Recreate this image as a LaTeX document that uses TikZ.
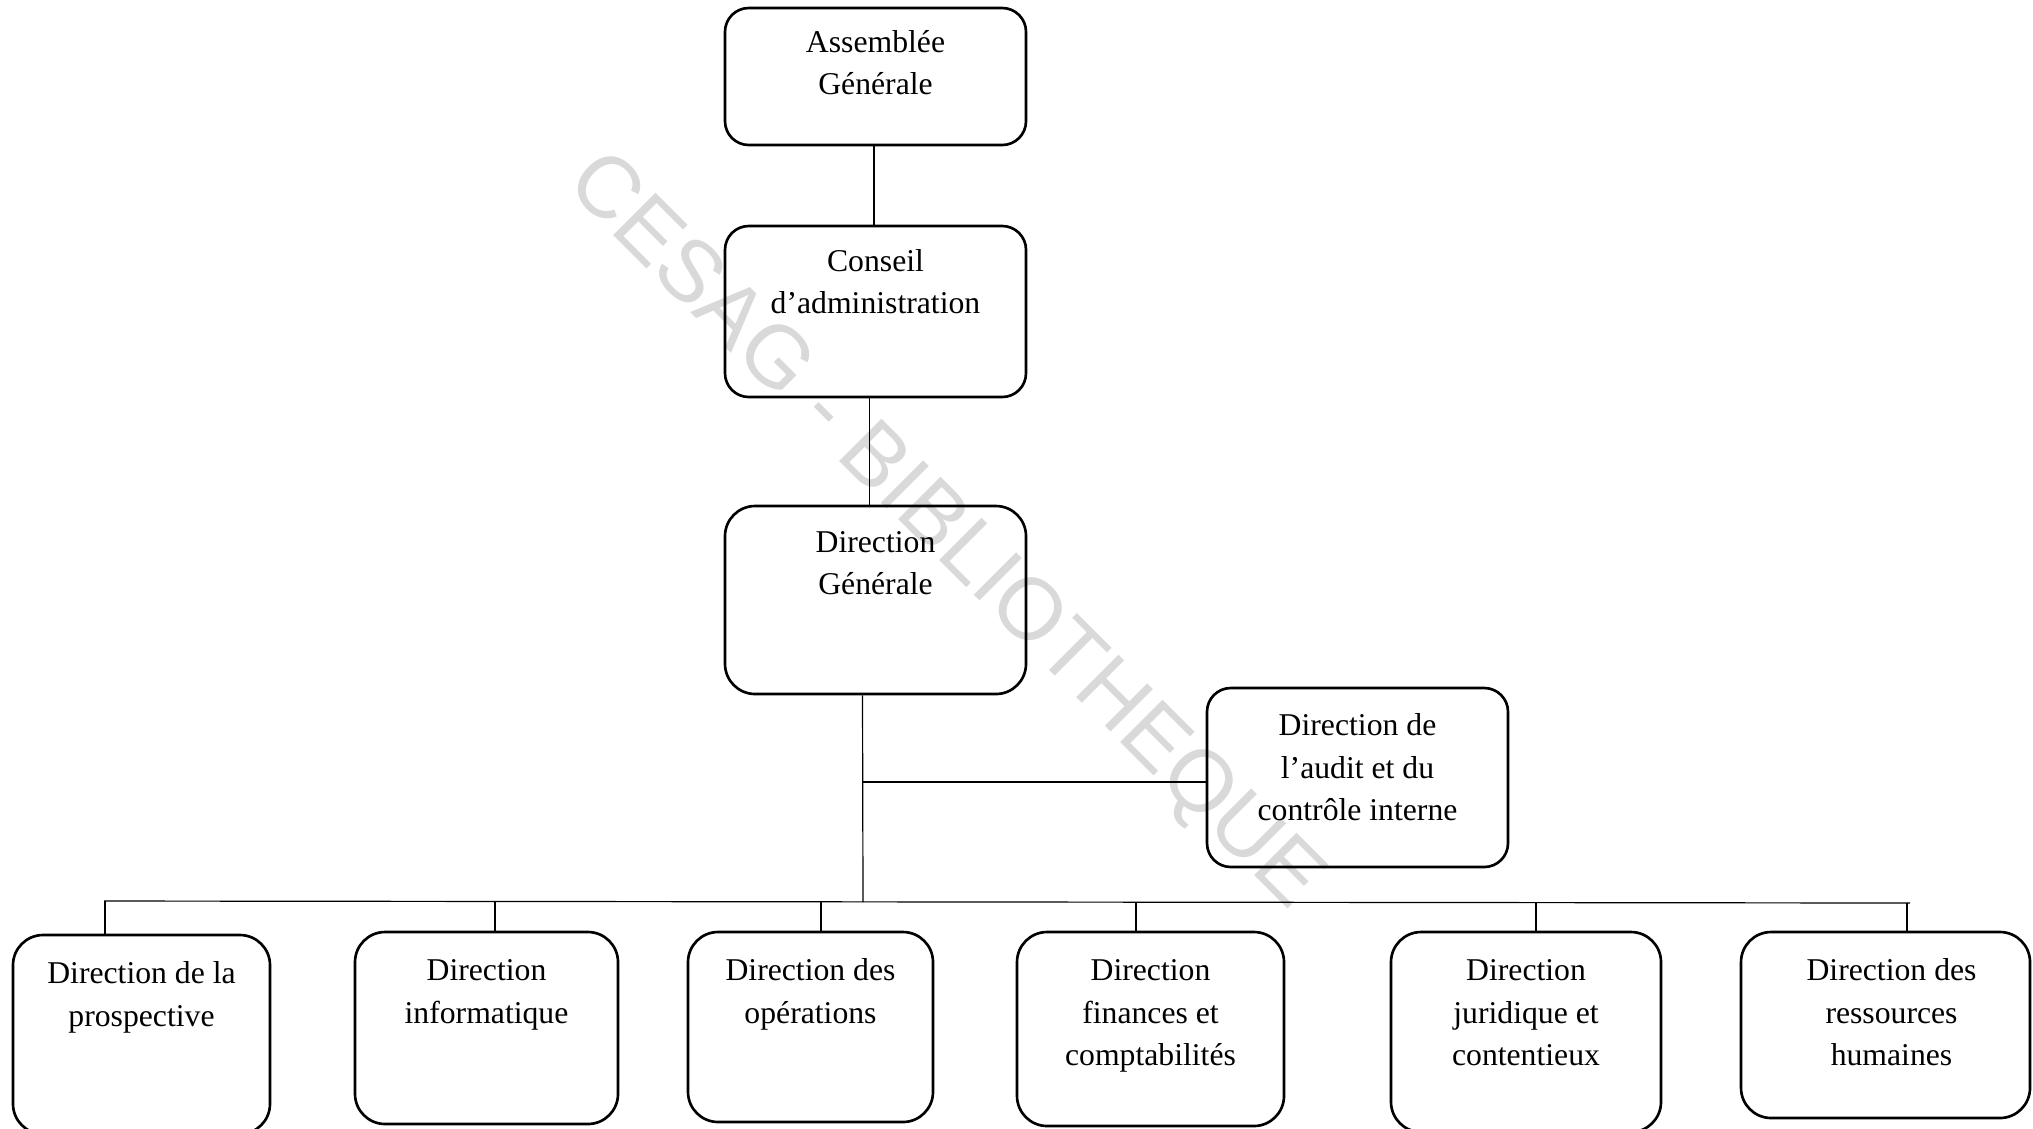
\documentclass[tikz,border=0pt]{standalone}
\usepackage{fontspec}
\setmainfont{Liberation Serif}
\newfontfamily\wmfont{Liberation Sans}
\usetikzlibrary{fit,calc}
\begin{document}
\begin{tikzpicture}[x=0.3785pt,y=-0.3785pt,
  orgbox/.style={draw=black,line width=1pt,rounded corners=9pt,inner sep=0pt},
  orgboxb/.style={orgbox,rounded corners=11.4pt},
  txt/.style={font=\fontsize{12}{16}\selectfont,align=center,inner sep=0pt,anchor=north},
  link/.style={draw=black,line width=0.45pt}]
\useasboundingbox (0,0) rectangle (2033,1128);
% watermark
\node[rotate=-45,text=black!15,font=\wmfont\fontsize{33}{33}\selectfont,inner sep=0pt] (wm) at (943,533) {CESAG - BIBLIOTHEQUE};
% boxes
\node[orgbox,fit={(725,8) (1026,145)}] (ag) {};
\node[orgbox,fit={(725,226) (1026,397)}] (ca) {};
\node[orgboxb,fit={(725,506) (1026,694)}] (dg) {};
\node[orgbox,fit={(1207,688) (1508,867)}] (au) {};
\node[orgboxb,fit={(13,935) (270,1134)}] (b1) {};
\node[orgboxb,fit={(355,932) (618,1124)}] (b2) {};
\node[orgboxb,fit={(688,932) (933,1122)}] (b3) {};
\node[orgboxb,fit={(1017,932) (1284,1126)}] (b4) {};
\node[orgboxb,fit={(1391,932) (1661,1132)}] (b5) {};
\node[orgboxb,fit={(1741,932) (2030,1118)}] (b6) {};
% texts
\node[txt] (agt) at ($(ag.north)+(0,15.8)$) {\strut Assemblée\\Générale};
\node[txt] (cat) at ($(ca.north)+(0,16.8)$) {\strut Conseil\\d’administration};
\node[txt] (dgt) at ($(dg.north)+(0,17.8)$) {\strut Direction\\Générale};
\node[txt] (aut) at ($(au.north)+(0,19)$) {\strut Direction de\\l’audit et du\\contrôle interne};
\node[txt] (b1t) at ($(b1.north)+(0,20)$) {\strut Direction de la\\prospective};
\node[txt] (b2t) at ($(b2.north)+(0,20)$) {\strut Direction\\informatique};
\node[txt] (b3t) at ($(b3.north)+(0,20)$) {\strut Direction des\\opérations};
\node[txt] (b4t) at ($(b4.north)+(0,20)$) {\strut Direction\\finances et\\comptabilités};
\node[txt] (b5t) at ($(b5.north)+(0,20)$) {\strut Direction\\juridique et\\contentieux};
\node[txt] (b6t) at ($(b6.north)+(6,20)$) {\strut Direction des\\ressources\\humaines};
% connectors
\coordinate (c1) at ($(ag.south)+(-1.5,0)$);
\draw[link] (c1) -- (c1 |- ca.north);
\coordinate (c2) at ($(ca.south)+(-6,0)$);
\draw[link] (c2) -- (c2 |- dg.north);
\coordinate (c3) at ($(dg.south)+(-13,0)$);
\coordinate (busL) at (104,901);
\coordinate (busR) at (1910,903);
\coordinate (busM) at (863,902);
\coordinate (ja) at (c3 |- 0,782);
\draw[link] (c3) -- (busM);
\draw[link] (ja) -- (ja -| au.west);
\draw[link] (busL) -- (busR);
\coordinate (d1) at (105,901);
\coordinate (d2) at (495,902);
\coordinate (d3) at (821,902);
\coordinate (d4) at (1136,902);
\coordinate (d5) at (1536,903);
\coordinate (d6) at (1907,903);
\draw[link] (d1) -- (d1 |- b1.north);
\draw[link] (d2) -- (d2 |- b2.north);
\draw[link] (d3) -- (d3 |- b3.north);
\draw[link] (d4) -- (d4 |- b4.north);
\draw[link] (d5) -- (d5 |- b5.north);
\draw[link] (d6) -- (d6 |- b6.north);
\end{tikzpicture}
\end{document}
